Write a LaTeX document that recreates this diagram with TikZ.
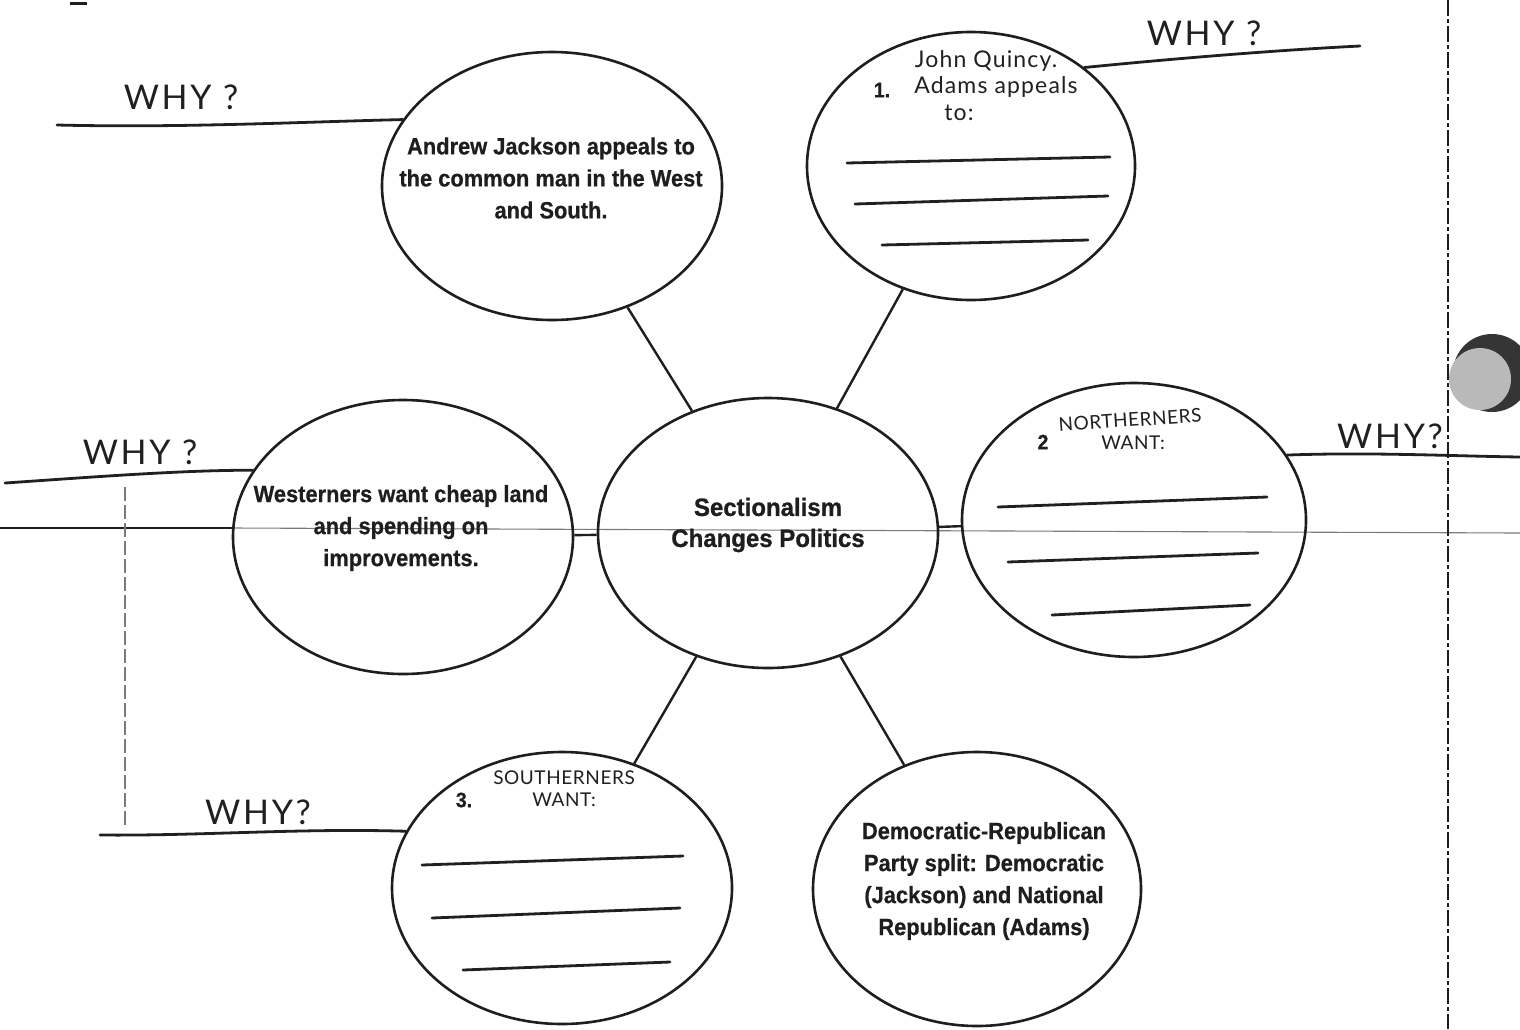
\documentclass[tikz,border=0pt]{standalone}
\usepackage{fontspec}
\setmainfont{Liberation Sans}
\newfontfamily\printfont[FakeStretch=0.93,BoldFeatures={FakeBold=0.6}]{Liberation Sans}
\newfontfamily\centerfont[FakeStretch=0.96,BoldFeatures={FakeBold=0.9}]{Liberation Sans}
\newfontfamily\handfont{Lato}
\usetikzlibrary{shapes.geometric}
\definecolor{ink}{HTML}{1E1E1E}
\definecolor{pencil}{HTML}{202020}
\definecolor{fold}{HTML}{7A7A7A}
\begin{document}
\begin{tikzpicture}[x=1pt,y=-1pt,
  bubble/.style={draw=ink, line width=2.6pt, ellipse, inner sep=0pt},
  spoke/.style={draw=ink, line width=2.4pt},
  ptext/.style={font=\printfont\bfseries\fontsize{23.5}{32}\selectfont, align=center, inner sep=0pt, text=ink},
  ctext/.style={font=\centerfont\bfseries\fontsize{25}{31}\selectfont, align=center, inner sep=0pt, text=ink},
  num/.style={font=\printfont\bfseries\fontsize{21}{24}\selectfont, inner sep=0pt, text=ink},
  hand/.style={font=\handfont\fontsize{23}{23}\selectfont\addfontfeature{LetterSpace=5}, inner sep=0pt, text=pencil},
  handcap/.style={font=\handfont\fontsize{19}{20}\selectfont\addfontfeature{LetterSpace=3}, inner sep=0pt, text=pencil},
  why/.style={font=\handfont\fontsize{34}{36}\selectfont\addfontfeature{LetterSpace=8}, inner sep=0pt, text=pencil},
  whyline/.style={draw=pencil, line width=2.8pt, line cap=round},
  blank/.style={draw=pencil, line width=2.8pt, line cap=round},
]
\useasboundingbox (0,0) rectangle (1520,1029);
\fill[white] (0,0) rectangle (1520,1029);

% scan artefacts: fold line, dashed margins, punch hole
\draw[fold, line width=1.1pt] (232,528) -- (1520,533);
\draw[ink, line width=1.4pt] (0,528) -- (232,528);
\draw[fold, line width=1.1pt, dash pattern=on 14pt off 4pt] (125,487) -- (125,828);
\draw[ink, line width=1.6pt, dash pattern=on 16pt off 3pt on 4pt off 3pt] (1448,0) -- (1448,1029);
\fill[ink] (70,2) rectangle (87,5);
\fill[ink!90] (1492,373) circle (39);
\fill[gray!55] (1480,379) circle (31);

% bubbles
\node[bubble, minimum width=340pt, minimum height=270pt] (c)  at (768,533) {};
\node[bubble, minimum width=340pt, minimum height=268pt] (tl) at (552,186) {};
\node[bubble, minimum width=328pt, minimum height=268pt] (tr) at (971,166) {};
\node[bubble, minimum width=340pt, minimum height=274pt] (w)  at (403,537) {};
\node[bubble, minimum width=344pt, minimum height=274pt] (n)  at (1134,520) {};
\node[bubble, minimum width=340pt, minimum height=272pt] (s)  at (562,888) {};
\node[bubble, minimum width=328pt, minimum height=274pt] (dr) at (977,889) {};

% spokes
\draw[spoke] (c) -- (tl);
\draw[spoke] (c) -- (tr);
\draw[spoke] (c) -- (w);
\draw[spoke] (c) -- (n);
\draw[spoke] (c) -- (s);
\draw[spoke] (c) -- (dr);

% printed texts
\node[ctext] (ct) at (768,525) {Sectionalism\\Changes Politics};
\node[ptext] (tlt) at (551,178) {Andrew Jackson appeals to\\the common man in the West\\and South.};
\node[ptext] (wt) at (401,528) {Westerners want cheap land\\and spending on\\improvements.};
\node[ptext] (drt) at (984,881) {Democratic-Republican\\Party split: Democratic\\(Jackson) and National\\Republican (Adams)};

% handwritten prompts
\node[hand] (jq) at (986,61) {John Quincy.};
\node[num] (n1) at (882,90) {1.};
\node[hand] (aa) at (996,87) {Adams appeals};
\node[hand] (to) at (959,113) {to:};
\node[num] (n2) at (1043,442) {2};
\node[handcap, rotate=4] (nn) at (1130,420) {NORTHERNERS};
\node[handcap] (nw) at (1133,443) {WANT:};
\node[num] (n3) at (464,800) {3.};
\node[handcap] (ss) at (564,778) {SOUTHERNERS};
\node[handcap] (sw) at (564,800) {WANT:};

% blank answer lines
\coordinate (a1) at (847,163); \coordinate (b1) at (1110,157);
\coordinate (a2) at (855,204); \coordinate (b2) at (1108,196);
\coordinate (a3) at (882,245); \coordinate (b3) at (1088,240);
\draw[blank] (a1) -- (b1); \draw[blank] (a2) -- (b2); \draw[blank] (a3) -- (b3);
\coordinate (a4) at (998,507); \coordinate (b4) at (1267,497);
\coordinate (a5) at (1008,562); \coordinate (b5) at (1258,553);
\coordinate (a6) at (1052,615); \coordinate (b6) at (1250,605);
\draw[blank] (a4) -- (b4); \draw[blank] (a5) -- (b5); \draw[blank] (a6) -- (b6);
\coordinate (a7) at (422,865); \coordinate (b7) at (683,856);
\coordinate (a8) at (432,918); \coordinate (b8) at (680,908);
\coordinate (a9) at (463,970); \coordinate (b9) at (670,962);
\draw[blank] (a7) -- (b7); \draw[blank] (a8) -- (b8); \draw[blank] (a9) -- (b9);

% WHY? lines
\coordinate (e1) at (57,125);
\coordinate (e2) at (1360,46);
\coordinate (e3) at (5,483);
\coordinate (e4) at (1520,457);
\coordinate (e5) at (100,835);
\draw[whyline] (tl.156) .. controls (300,122) and (180,128) .. (e1);
\draw[whyline] (tr.41) .. controls (1180,58) and (1280,50) .. (e2);
\draw[whyline] (w.156) .. controls (180,470) and (80,478) .. (e3);
\draw[whyline] (n.23) .. controls (1370,452) and (1450,456) .. (e4);
\draw[whyline] (s.160) .. controls (300,828) and (200,836) .. (e5);

\node[why] (w1) at (181,97) {WHY ?};
\node[why] (w2) at (1204,33) {WHY ?};
\node[why] (w3) at (140,452) {WHY ?};
\node[why] (w4) at (1390,436) {WHY?};
\node[why] (w5) at (258,812) {WHY?};
\end{tikzpicture}
\end{document}
